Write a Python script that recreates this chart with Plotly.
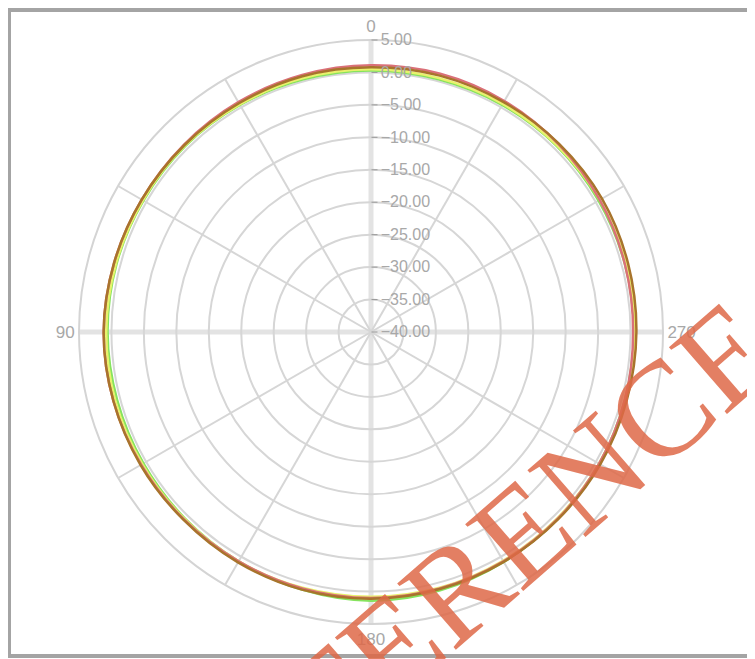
import plotly.graph_objects as go

angles = [0, 15, 30, 45, 60, 75, 90, 105, 120, 135, 150, 165, 180,
          195, 210, 225, 240, 255, 270, 285, 300, 315, 330, 345, 360]
gain_red = [1.1, 1.0, 0.9, 0.8, 0.8, 1.0, 1.2, 1.1, 0.9, 0.8, 0.8, 0.9, 1.0,
            0.9, 0.8, 0.7, 0.6, 0.5, 0.4, 0.5, 0.7, 0.9, 1.1, 1.2, 1.1]
gain_brown = [0.8, 0.8, 0.7, 0.7, 0.8, 1.0, 1.2, 1.1, 1.0, 0.9, 1.0, 1.1, 1.1,
              1.0, 0.9, 0.8, 0.8, 0.8, 0.9, 1.0, 1.1, 1.0, 0.9, 0.9, 0.8]
gain_green = [0.3, 0.3, 0.4, 0.5, 0.5, 0.6, 0.6, 0.5, 0.5, 0.6, 0.8, 1.1, 1.4,
              1.2, 0.9, 0.7, 0.6, 0.5, 0.5, 0.5, 0.5, 0.5, 0.4, 0.3, 0.3]
gain_yellow = [0.5, 0.5, 0.5, 0.6, 0.6, 0.7, 0.8, 0.8, 0.7, 0.7, 0.8, 0.8, 0.8,
               0.8, 0.7, 0.6, 0.6, 0.6, 0.7, 0.7, 0.7, 0.6, 0.6, 0.5, 0.5]

radial_ticks = [-40, -35, -30, -25, -20, -15, -10, -5, 0, 5]
major_angles = [0, 90, 180, 270]
minor_angles = [30, 60, 120, 150, 210, 240, 300, 330]

W, H = 755, 659
OFF = 8  # page body margin
cx, cy, rad = 371 - OFF, 332 - OFF, 292
dom_x = [(cx - rad) / W, (cx + rad) / W]
dom_y = [1 - (cy + rad) / H, 1 - (cy - rad) / H]

fig = go.Figure()

# invisible point so the background polar layer gets drawn
fig.add_trace(go.Scatterpolar(
    r=[-40], theta=[0], mode="markers", marker=dict(opacity=0),
    hoverinfo="skip", subplot="polar",
))

series = [
    ("green", gain_green, "#86e35e"),
    ("yellow", gain_yellow, "#e8f26c"),
    ("red", gain_red, "#da7078"),
    ("brown", gain_brown, "#a8742c"),
]
for name, vals, col in series:
    fig.add_trace(go.Scatterpolar(
        r=vals, theta=angles, mode="lines", name=name,
        line=dict(color=col, width=2.5, shape="spline"), subplot="polar2",
    ))

grey = "#a8a8a8"
fig.update_layout(
    width=W, height=H,
    margin=dict(l=0, r=0, t=0, b=0),
    paper_bgcolor="white",
    showlegend=False,
    # background layer: thick light main axes + angle labels
    polar=dict(
        domain=dict(x=dom_x, y=dom_y),
        bgcolor="white",
        angularaxis=dict(
            rotation=90, direction="counterclockwise",
            tickmode="array", tickvals=major_angles,
            ticktext=[str(a) for a in major_angles],
            tickfont=dict(family="Liberation Sans", size=17, color=grey),
            ticks="", showgrid=True, gridcolor="#e3e3e3", gridwidth=5,
            showline=True, linecolor="#d4d4d4", linewidth=2,
        ),
        radialaxis=dict(range=[-40, 5], visible=False),
    ),
    # top layer: fine grid, radial labels, data
    polar2=dict(
        domain=dict(x=dom_x, y=dom_y),
        bgcolor="rgba(0,0,0,0)",
        angularaxis=dict(
            rotation=90, direction="counterclockwise",
            tickmode="array", tickvals=minor_angles,
            showticklabels=False, ticks="",
            showgrid=True, gridcolor="#d6d6d6", gridwidth=2,
            showline=False,
        ),
        radialaxis=dict(
            range=[-40, 5], angle=90, tickangle=90,
            tickmode="array", tickvals=radial_ticks, tickformat=".2f",
            tickfont=dict(family="Liberation Sans", size=16, color=grey),
            ticks="outside", ticklen=6, tickcolor="#9a9a9a",
            showgrid=True, gridcolor="#d6d6d6", gridwidth=2,
            showline=False,
        ),
    ),
)

# outer frame of the picture
fig.add_shape(type="rect", xref="paper", yref="paper",
              x0=(9 - OFF) / W, x1=1.05, y0=1 - (656 - OFF) / H, y1=1 - (10 - OFF) / H,
              line=dict(color="#a4a4a4", width=4))

# watermark
fig.add_annotation(
    text="REFERENCE COPY", xref="paper", yref="paper",
    x=(613 - OFF) / W, y=1 - (452 - OFF) / H, xanchor="center", yanchor="middle",
    textangle=-41, showarrow=False,
    font=dict(family="Liberation Serif", size=135, color="rgba(222,104,72,0.85)"),
)

fig.write_html("out.html")
